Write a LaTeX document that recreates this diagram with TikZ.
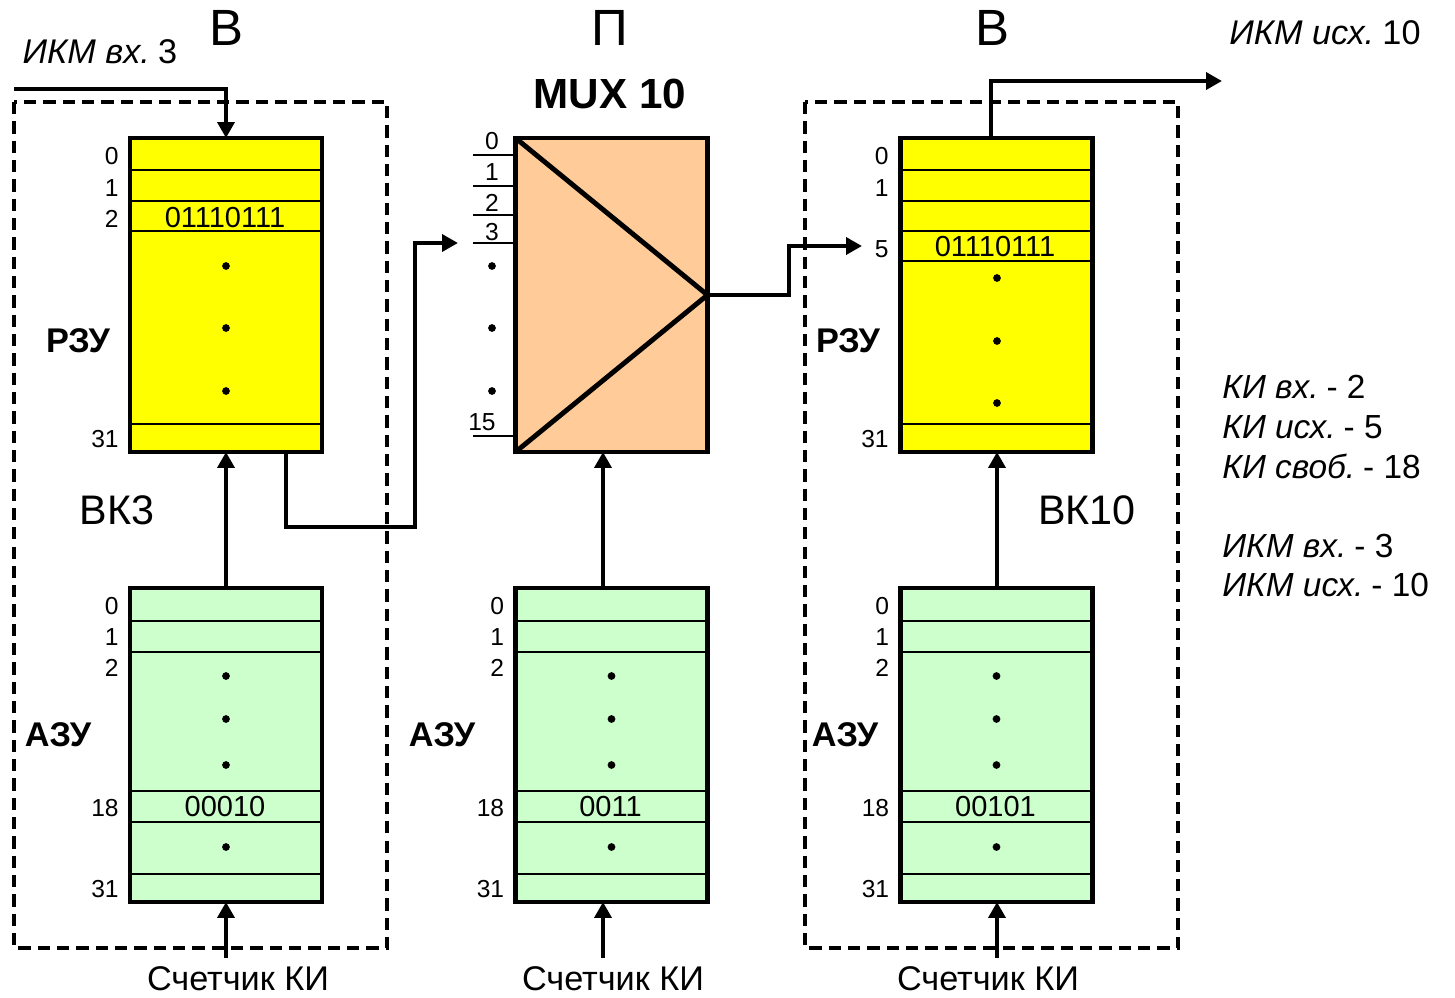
\documentclass[tikz,border=0pt]{standalone}
\usepackage{fontspec}
\setmainfont{Liberation Sans}
\usetikzlibrary{positioning,arrows.meta,calc}
\definecolor{ramyellow}{HTML}{FFFF00}
\definecolor{azugreen}{HTML}{CCFFCC}
\definecolor{muxorange}{HTML}{FFCC99}
\tikzset{
  memframe/.style={draw, line width=2.8pt, minimum width=3.84cm, minimum height=6.28cm, inner sep=0pt, outer sep=0pt},
  ramcell/.style={memframe, fill=ramyellow},
  azucell/.style={memframe, fill=azugreen},
  muxbox/.style={memframe, fill=muxorange},
  rowline/.style={line width=1.5pt},
  wire/.style={line width=2.2pt},
  sig/.style={wire, -{Triangle[length=9pt, width=9.5pt]}},
  groupbox/.style={draw, line width=2pt, dash pattern=on 7pt off 4pt},
  idx/.style={anchor=east, inner sep=0pt, font=\fontsize{14pt}{16pt}\selectfont},
  muxidx/.style={inner sep=0pt, font=\fontsize{14pt}{16pt}\selectfont},
  datatxt/.style={inner sep=0pt, font=\fontsize{16.5pt}{18pt}\selectfont},
  blocklbl/.style={inner sep=0pt, font=\bfseries\fontsize{19.5pt}{21pt}\selectfont},
  headlbl/.style={inner sep=0pt, font=\fontsize{29pt}{32pt}\selectfont},
  vklbl/.style={inner sep=0pt, font=\fontsize{23.5pt}{26pt}\selectfont},
  cntlbl/.style={inner sep=0pt, font=\fontsize{19.5pt}{22pt}\selectfont},
  streamlbl/.style={inner sep=0pt, font=\fontsize{19.5pt}{21pt}\selectfont},
  notelbl/.style={anchor=west, inner sep=0pt, text height=2.3ex, text depth=0.3ex, font=\fontsize{19pt}{21pt}\selectfont}
}
\begin{document}
\begin{tikzpicture}[x=0.02cm, y=-0.02cm]
  \useasboundingbox (0,0) rectangle (1455,998);
  % switching groups
  \draw[groupbox] (14,102) rectangle (387,948);
  \draw[groupbox] (805,102) rectangle (1178,948);
  \node[headlbl] (hdA) at (226,28) {В};
  \node[headlbl] (hdB) at (610,28) {П};
  \node[headlbl] (hdC) at (992,28) {В};
  \node[blocklbl, font=\bfseries\fontsize{24pt}{26pt}\selectfont] (muxname) at (610,94) {MUX 10};
  \node[streamlbl] (ikmin) at (100,52) {{\itshape ИКМ вх.}\hspace{0.24em}3};
  \node[streamlbl] (ikmout) at (1325,33) {{\itshape ИКМ исх.}\hspace{0.24em}10};

  % РЗУ of the incoming group
  \node[ramcell] (ramA) at (226,295) {};
  \foreach \dy in {32,63,93,286}
    \draw[rowline] ($(ramA.north west)+(0,\dy)$) -- ++(192,0);
  \foreach \lb/\yy in {0/156,1/188,2/219,31/439}
    \node[idx] (ia\lb) at (119,\yy) {\lb};
  \node[datatxt] (dataA) at (225,218) {01110111};
  \foreach \yy in {266,328,391} \fill (226,\yy) circle (2.2pt);
  \node[blocklbl] (ramAlbl) at (78,341) {РЗУ};
  \node[vklbl] (vkA) at (117,510) {ВК3};

  % multiplexer
  \node[muxbox] (mux) at (611.5,295) {};
  \draw[line width=2.8pt, line join=miter] (mux.north west) -- (mux.east) -- (mux.south west);
  \foreach \lb/\yy in {0/155,1/186,2/215,3/243,15/436}
    \draw[rowline] (473,\yy) -- (mux.west |- 0,\yy);
  \foreach \lb/\yy in {0/141,1/172,2/203,3/232}
    \node[muxidx] (im\lb) at (492,\yy) {\lb};
  \node[muxidx] (im15) at (482,422) {15};
  \foreach \yy in {266,328,391} \fill (492,\yy) circle (2.2pt);

  % РЗУ of the outgoing group
  \node[ramcell] (ramC) at (996.5,295) {};
  \foreach \dy in {32,63,93,123,286}
    \draw[rowline] ($(ramC.north west)+(0,\dy)$) -- ++(193,0);
  \foreach \lb/\yy in {0/156,1/188,5/249,31/439}
    \node[idx] (ic\lb) at (889,\yy) {\lb};
  \node[datatxt] (dataC) at (995,247) {01110111};
  \foreach \yy in {278,341,403} \fill (997,\yy) circle (2.2pt);
  \node[blocklbl] (ramClbl) at (848,341) {РЗУ};
  \node[vklbl] (vkC) at (1087,510) {ВК10};

  % АЗУ blocks with their counters
  \foreach \cx/\ax/\tx/\lx/\code/\nm/\tgt in {226/226/238/58/00010/A/ramA,
      611.5/603/613/442/0011/B/mux, 996.5/997/988/845/00101/C/ramC}{
    \node[azucell] (azu\nm) at (\cx,745) {};
    \foreach \dy in {33,64,203,234,286}
      \draw[rowline] ($(azu\nm.north west)+(0,\dy)$) -- ++(192,0);
    \foreach \lb/\yy in {0/606,1/637,2/668,18/808,31/889}
      \node[idx] (a\nm\lb) at (\cx-107,\yy) {\lb};
    \node[datatxt] (code\nm) at (\cx-1,807) {\code};
    \foreach \yy in {676,719,765,847} \fill (\cx,\yy) circle (2.2pt);
    \node[blocklbl] (azu\nm lbl) at (\lx,735) {АЗУ};
    \coordinate (cnt\nm) at (\ax,958);
    \draw[sig] (cnt\nm) -- (azu\nm.south -| cnt\nm);
    \node[cntlbl] (cnt\nm lbl) at (\tx,979) {Счетчик КИ};
    \draw[sig] (azu\nm.north -| cnt\nm) -- (\tgt.south -| cnt\nm);
  }

  % connections
  \coordinate (inA) at (14,89);
  \draw[sig] (inA) -| (ramA.north);
  \coordinate (outA) at (286,452);
  \coordinate (bendA) at (415,527);
  \coordinate (in3) at (458,243);
  \draw[sig] (outA) |- (bendA) |- (in3);
  \coordinate (bendB) at (789,295);
  \coordinate (in5) at (862,246);
  \draw[sig] (mux.east) -- (bendB) |- (in5);
  \coordinate (outC) at (991,138);
  \coordinate (endC) at (1222,81);
  \draw[sig] (outC) |- (endC);

  % channel summary
  \node[notelbl] (n1) at (1222,389) {{\itshape КИ вх.}\hspace{0.24em}- 2};
  \node[notelbl] (n2) at (1222,429) {{\itshape КИ исх.}\hspace{0.24em}- 5};
  \node[notelbl] (n3) at (1222,469) {{\itshape КИ своб.}\hspace{0.24em}- 18};
  \node[notelbl] (n4) at (1222,548) {{\itshape ИКМ вх.}\hspace{0.24em}- 3};
  \node[notelbl] (n5) at (1222,587) {{\itshape ИКМ исх.}\hspace{0.24em}- 10};
\end{tikzpicture}
\end{document}
